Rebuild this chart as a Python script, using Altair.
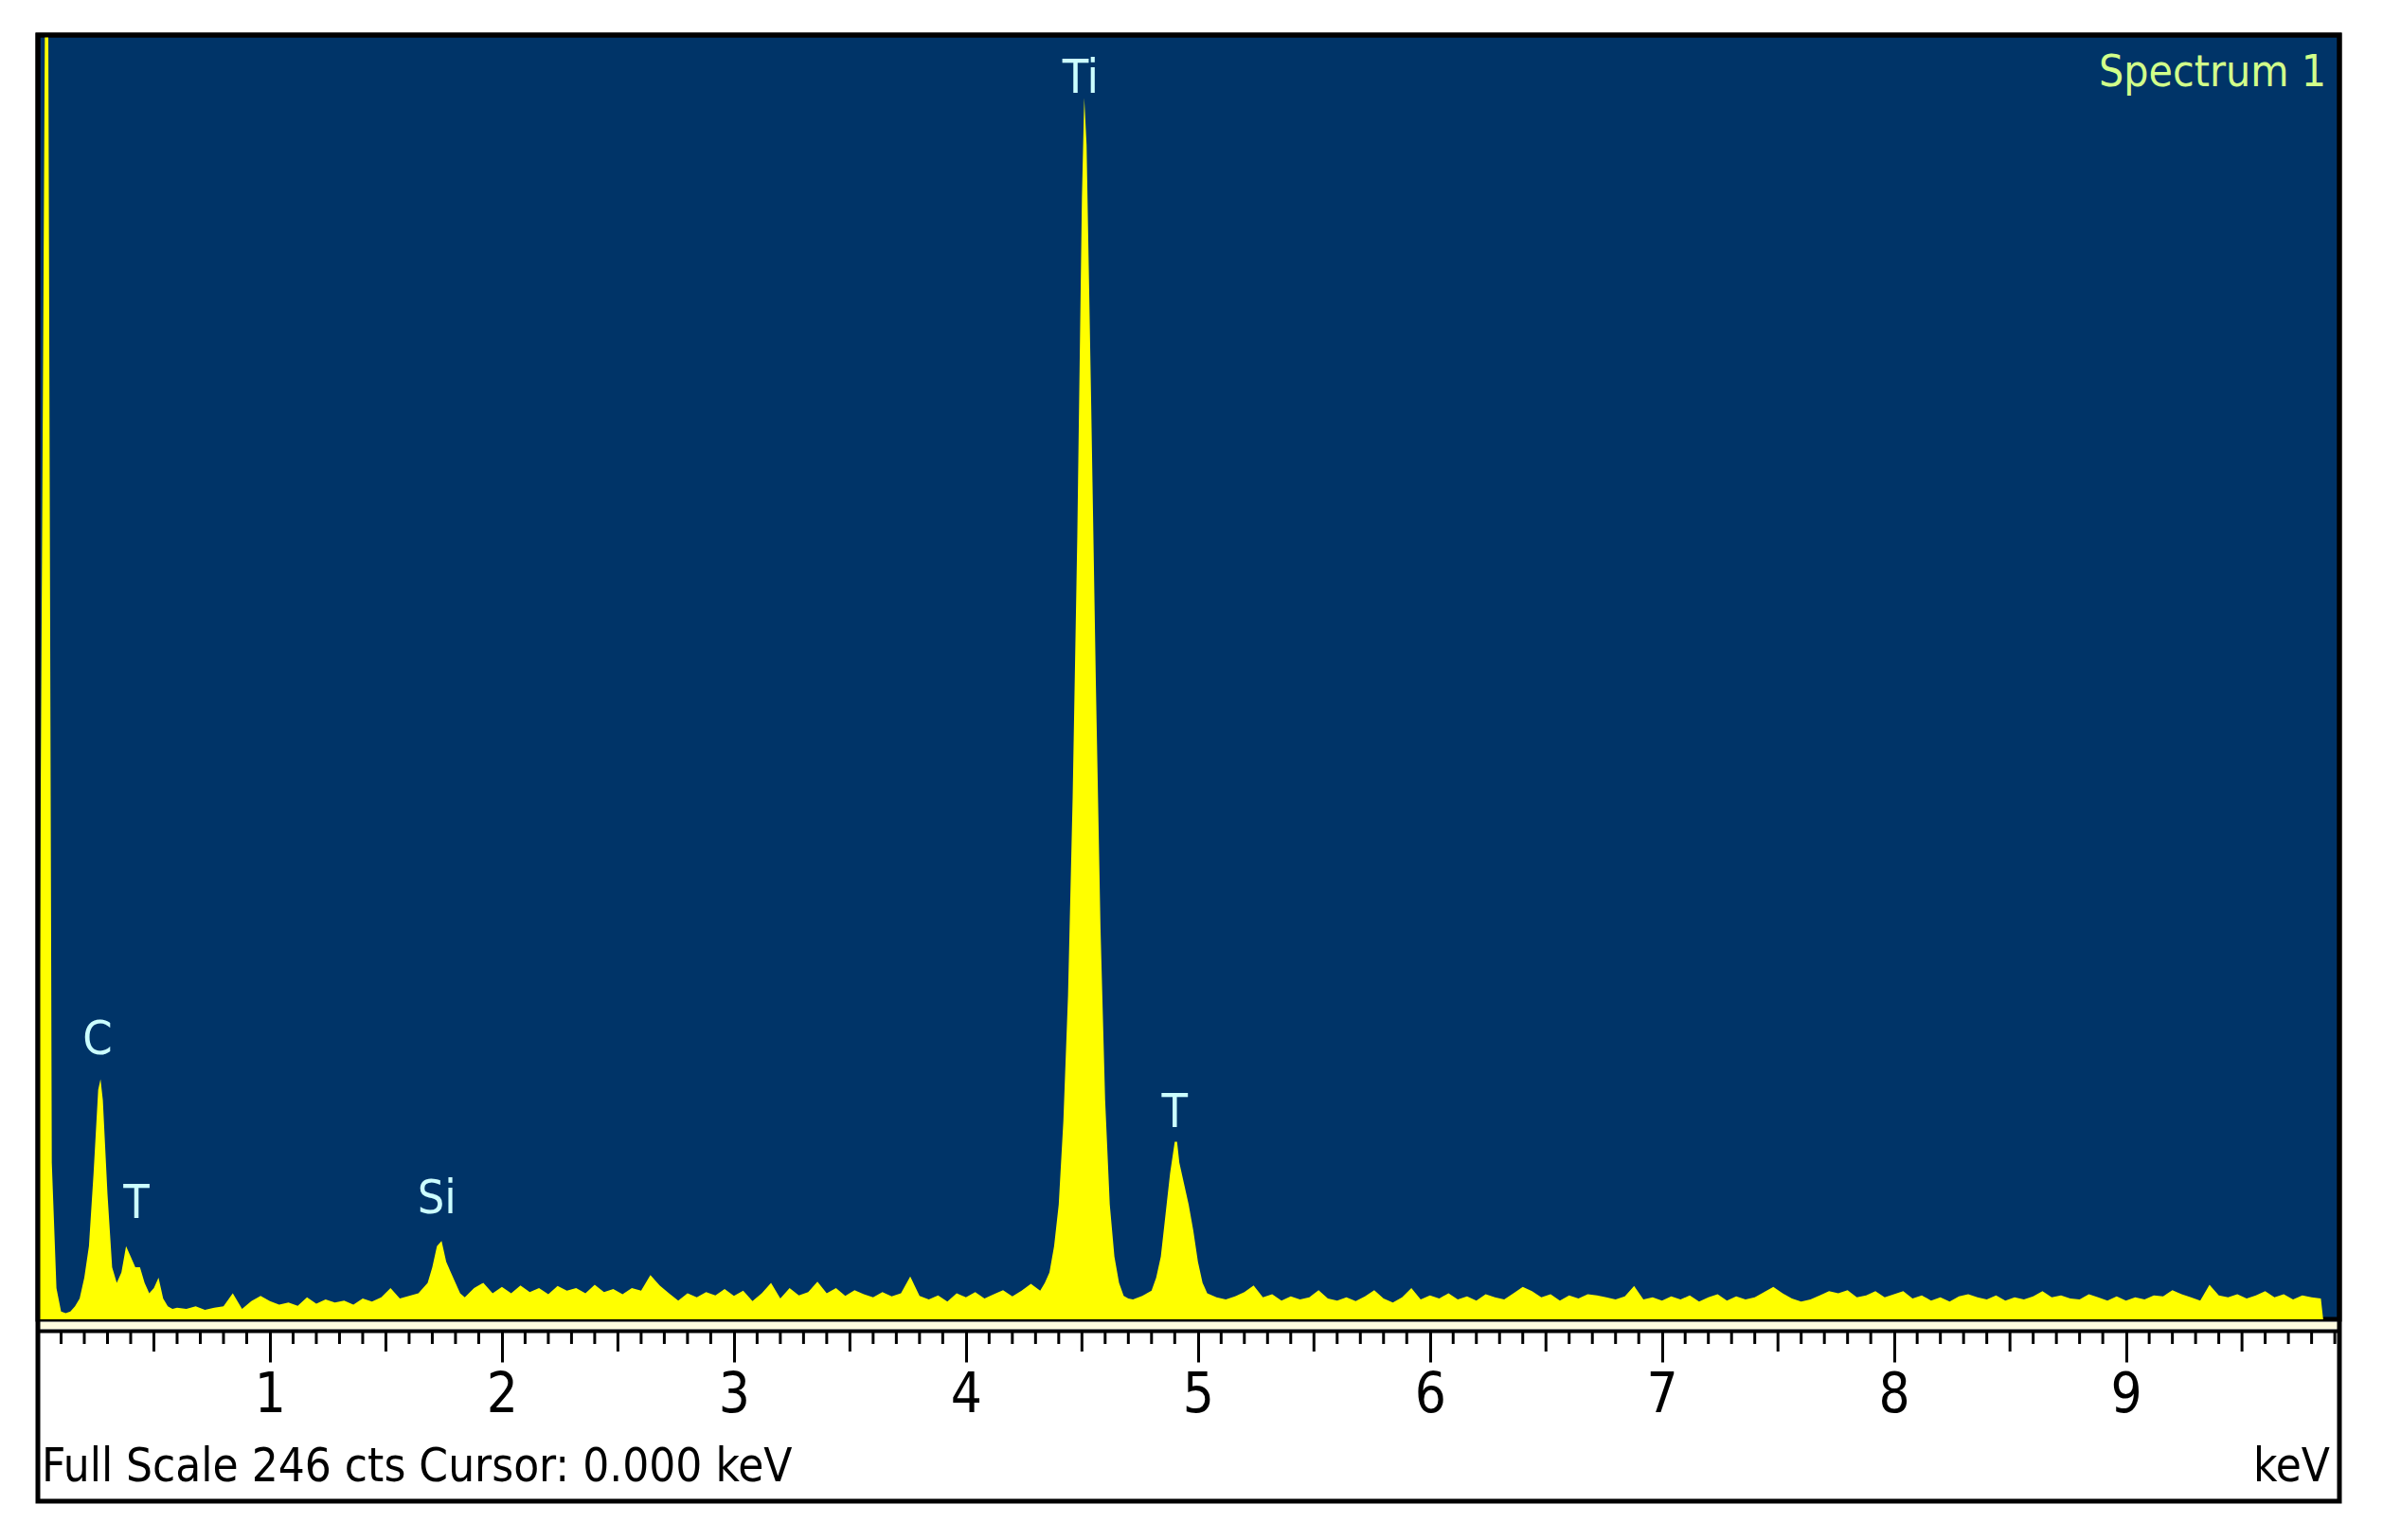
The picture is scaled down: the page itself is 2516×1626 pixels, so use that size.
import altair as alt
import numpy as np
import pandas as pd

FONT = "Liberation Sans Narrow, DejaVu Sans Condensed, Liberation Sans, sans-serif"
W, H = 2430, 1356

# ---- spectrum (keV, counts) ----
low_keV = [0.0, 0.03, 0.045, 0.06, 0.08, 0.10, 0.12, 0.14, 0.16, 0.18, 0.20, 0.22,
           0.24, 0.26, 0.27, 0.28, 0.30, 0.32, 0.34, 0.36, 0.38, 0.40, 0.42, 0.44,
           0.46, 0.48, 0.50, 0.52, 0.54, 0.56, 0.58, 0.60]
low_cts = [0, 246, 246, 30, 6, 1.5, 1.2, 1.5, 2.5, 4, 8, 14,
           28, 44, 46, 42, 24, 10, 7, 9, 14, 12, 10, 10,
           7, 5, 6, 8, 4, 2.5, 2, 2.2]

bg1_keV = np.round(np.arange(0.64, 1.6401, 0.04), 2).tolist()
bg1_cts = [2, 2.5, 1.8, 2.2, 2.5, 5, 2, 3.5, 4.5, 3.5, 2.8, 3.2, 2.6, 4.2, 3,
           3.8, 3.2, 3.6, 2.8, 4, 3.4, 4.2, 6, 4, 4.5, 5]

si_keV = [1.66, 1.68, 1.70, 1.72, 1.74, 1.76, 1.78, 1.80, 1.82, 1.84]
si_cts = [6, 7, 10, 14, 15, 11, 9, 7, 5, 4.2]

bg2_keV = np.round(np.arange(1.88, 4.3201, 0.04), 2).tolist()
bg2_cts = [6, 7, 5, 6.2, 5, 6.5, 5.2, 6, 4.8, 6.4,
           5.5, 6, 5, 6.6, 5.2, 5.8, 4.8, 6, 5.5, 8.5,
           6.5, 5, 3.6, 5, 4.2, 5.2, 4.6, 5.8, 4.5, 5.5,
           3.5, 5, 7, 4, 6, 4.6, 5.2, 7.2, 5, 6,
           4.5, 5.6, 4.8, 4.2, 5.2, 4.4, 5, 8.2, 4.5, 3.8,
           4.6, 3.4, 5, 4.2, 5.2, 4, 4.8, 5.6, 4.4, 5.5,
           6.8, 5.5]

ti_keV = [4.34, 4.36, 4.38, 4.40, 4.42, 4.44, 4.46, 4.48, 4.50, 4.51, 4.52, 4.54,
          4.56, 4.58, 4.60, 4.62, 4.64, 4.66, 4.68, 4.70, 4.72, 4.76, 4.80]
ti_cts = [7, 9, 14, 22, 38, 62, 100, 150, 215, 234, 225, 175,
          122, 75, 42, 22, 12, 7, 4.5, 4, 3.8, 4.5, 5.5]

tib_keV = [4.82, 4.84, 4.86, 4.88, 4.90, 4.91, 4.92, 4.94, 4.96, 4.98, 5.00, 5.02, 5.04, 5.08]
tib_cts = [8, 12, 20, 28, 34, 34, 30, 26, 22, 17, 11, 7, 5, 4.2]

bg3_keV = np.round(np.arange(5.12, 9.8401, 0.04), 2).tolist()
bg3_cts = [3.8, 4.4, 5.2, 6.5, 4.2, 4.8, 3.6, 4.4, 3.8, 4.2,
           5.6, 4, 3.6, 4.2, 3.5, 4.4, 5.6, 4, 3.2, 4.2,
           6, 3.8, 4.6, 4, 5, 3.8, 4.4, 3.6, 4.8, 4.2,
           3.8, 5, 6.2, 5.4, 4.2, 4.8, 3.6, 4.6, 4, 4.8,
           4.6, 4.2, 3.8, 4.4, 6.4, 3.8, 4.2, 3.6, 4.4, 3.8,
           4.6, 3.4, 4.2, 4.8, 3.6, 4.4, 3.8, 4.2, 5.2, 6.2,
           5, 4, 3.4, 3.8, 4.6, 5.4, 5, 5.6, 4.2, 4.6,
           5.4, 4.2, 4.8, 5.4, 4, 4.6, 3.6, 4.2, 3.4, 4.4,
           4.8, 4.2, 3.8, 4.6, 3.6, 4.2, 3.8, 4.4, 5.4, 4.2,
           4.6, 4, 3.8, 4.8, 4.2, 3.6, 4.4, 3.6, 4.2, 3.8,
           4.6, 4.4, 5.6, 4.8, 4.2, 3.6, 6.6, 4.6, 4.2, 4.8,
           4, 4.6, 5.4, 4.2, 4.8, 3.8, 4.6, 4.2, 4]

end_keV = [9.85]
end_cts = [0]

segments = [(low_keV, low_cts), (bg1_keV, bg1_cts), (si_keV, si_cts), (bg2_keV, bg2_cts),
            (ti_keV, ti_cts), (tib_keV, tib_cts), (bg3_keV, bg3_cts), (end_keV, end_cts)]
energy, counts = [], []
for e, c in segments:
    assert len(e) == len(c), (len(e), len(c))
    energy += list(e)
    counts += list(c)
spec = pd.DataFrame({"keV": energy, "cts": counts})

# ---- peak labels ----
peak_names = ["C", "T", "Si", "Ti", "T"]
peak_keV = [0.257, 0.424, 1.72, 4.494, 4.90]
peak_label_cts = [53.5, 22.1, 23.0, 237.7, 39.5]
labels = pd.DataFrame({"name": peak_names, "keV": peak_keV, "cts": peak_label_cts})

# ---- axis ticks ----
major_ticks = [1, 2, 3, 4, 5, 6, 7, 8, 9]
medium_ticks = [0.5, 1.5, 2.5, 3.5, 4.5, 5.5, 6.5, 7.5, 8.5, 9.5]
minor_ticks = [round(i * 0.1, 1) for i in range(1, 100) if i % 5 != 0]

x_scale = alt.Scale(domain=[0, 9.92], nice=False, zero=False)
y_scale = alt.Scale(domain=[0, 246], nice=False)

AX_OFF = 12

area = alt.Chart(spec).mark_area(color="#ffff00", clip=True).encode(
    x=alt.X("keV:Q", scale=x_scale,
            axis=alt.Axis(values=major_ticks, format="d", title=None, grid=False,
                          offset=AX_OFF, domainColor="black", domainWidth=4,
                          tickColor="black", tickWidth=3, tickSize=33,
                          labelFont=FONT, labelFontSize=58, labelColor="black",
                          labelPadding=6)),
    y=alt.Y("cts:Q", scale=y_scale, axis=None),
)

minor = alt.Chart(pd.DataFrame({"keV": minor_ticks})).mark_rule(
    color="black", strokeWidth=3).encode(
    x=alt.X("keV:Q", scale=x_scale, title=None),
    y=alt.value(H + AX_OFF), y2=alt.value(H + AX_OFF + 14),
)
medium = alt.Chart(pd.DataFrame({"keV": medium_ticks})).mark_rule(
    color="black", strokeWidth=3).encode(
    x=alt.X("keV:Q", scale=x_scale, title=None),
    y=alt.value(H + AX_OFF), y2=alt.value(H + AX_OFF + 22),
)

peak_text = alt.Chart(labels).mark_text(
    font=FONT, fontSize=50, color="#ccffff", align="center", baseline="middle").encode(
    x=alt.X("keV:Q", scale=x_scale, title=None),
    y=alt.Y("cts:Q", scale=y_scale, axis=None),
    text="name:N",
)

one = pd.DataFrame({"a": [0]})
strip = alt.Chart(one).mark_rect(fill="#fffbe0").encode(
    x=alt.value(0), x2=alt.value(W), y=alt.value(H + 3), y2=alt.value(H + 10))

frame = alt.Chart(one).mark_rect(fillOpacity=0, stroke="black", strokeWidth=5).encode(
    x=alt.value(0), x2=alt.value(W), y=alt.value(0), y2=alt.value(H + 192))

title_txt = alt.Chart(one).mark_text(
    text="Spectrum 1", font=FONT, fontSize=46, color="#d2ff8a",
    align="right", baseline="middle").encode(x=alt.value(W - 14), y=alt.value(40))

footer = alt.Chart(one).mark_text(
    text="Full Scale 246 cts Cursor: 0.000 keV", font=FONT, fontSize=49, color="black",
    align="left", baseline="middle").encode(x=alt.value(4), y=alt.value(H + 156))

unit = alt.Chart(one).mark_text(
    text="keV", font=FONT, fontSize=49, color="black",
    align="right", baseline="middle").encode(x=alt.value(W - 10), y=alt.value(H + 156))

chart = alt.layer(area, strip, minor, medium, peak_text, title_txt, footer, unit, frame).properties(
    width=W, height=H,
    padding={"left": 32, "top": 29, "right": 20, "bottom": 220},
    autosize=alt.AutoSizeParams(type="none"),
    background="white",
).configure_view(fill="#003468", stroke="black", strokeWidth=5)

chart.save("out.html", embed_options={"renderer": "svg", "actions": False})
